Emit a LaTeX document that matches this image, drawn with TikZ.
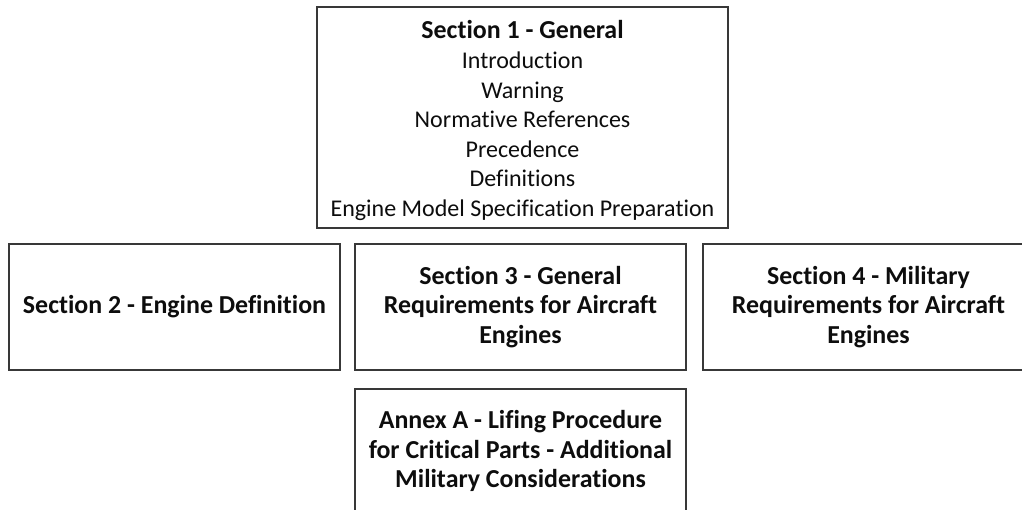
\documentclass[tikz,border=0pt]{standalone}
\usepackage{fontspec}
\setmainfont{Carlito}[Ligatures={NoCommon}]
\begin{document}
\begin{tikzpicture}[x=1pt,y=-1pt,
  secbox/.style={draw=black!78,line width=1.6pt,fill=white,align=center,
    inner sep=0pt,font=\fontsize{24}{29.6}\selectfont,text=black!95},
  headtext/.style={font=\fontsize{25.9}{29.3}\selectfont\bfseries}]
  \useasboundingbox (0,0) rectangle (1022,510);
  \clip (0,0) rectangle (1022,510);
  % top overview box (the strut nudges the list a little lower)
  \node[secbox,minimum width=411pt,minimum height=221pt] (s1) at (522.5,117.5)
    {\rule{0pt}{24.5pt}{\fontsize{25.9}{29.6}\selectfont\bfseries Section 1 - General}\\Introduction\\Warning\\Normative References\\Precedence\\Definitions\\Engine Model Specification Preparation};
  % middle row
  \node[secbox,headtext,minimum width=331pt,minimum height=126pt] (s2) at (174.5,307)
    {Section 2 - Engine Definition};
  \node[secbox,headtext,minimum width=331pt,minimum height=126pt] (s3) at (520.5,307)
    {Section 3 - General\\Requirements for Aircraft\\Engines};
  \node[secbox,headtext,minimum width=331pt,minimum height=126pt] (s4) at (868.5,307)
    {Section 4 - Military\\Requirements for Aircraft\\Engines};
  % annex below
  \node[secbox,headtext,minimum width=331pt,minimum height=124pt] (ax) at (520.5,451)
    {Annex A - Lifing Procedure\\for Critical Parts - Additional\\Military Considerations};
\end{tikzpicture}
\end{document}
